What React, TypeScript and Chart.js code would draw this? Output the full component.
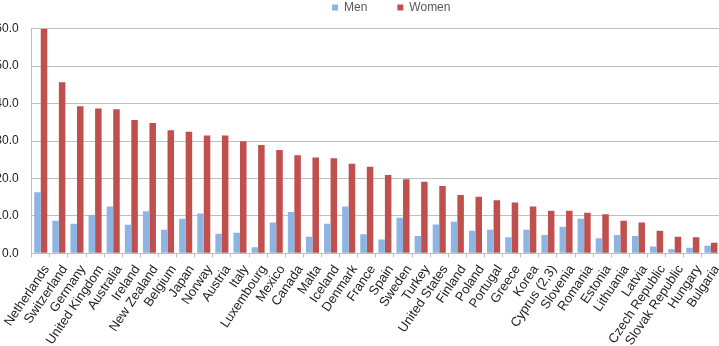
import React, { useEffect, useRef } from "react";
import { Chart, registerables } from "chart.js";

Chart.register(...registerables);

const categories = [
  "Netherlands", "Switzerland", "Germany", "United Kingdom", "Australia", "Ireland",
  "New Zealand", "Belgium", "Japan", "Norway", "Austria", "Italy", "Luxembourg",
  "Mexico", "Canada", "Malta", "Iceland", "Denmark", "France", "Spain", "Sweden",
  "Turkey", "United States", "Finland", "Poland", "Portugal", "Greece", "Korea",
  "Cyprus (2,3)", "Slovenia", "Romania", "Estonia", "Lithuania", "Latvia",
  "Czech Republic", "Slovak Republic", "Hungary", "Bulgaria",
];

const men = [
  16.3, 8.7, 7.9, 10.2, 12.5, 7.6, 11.2, 6.3, 9.2, 10.6, 5.2, 5.5, 1.6,
  8.2, 11.0, 4.4, 7.9, 12.5, 5.1, 3.7, 9.5, 4.6, 7.7, 8.4, 6.0, 6.3, 4.3, 6.3,
  4.9, 7.1, 9.2, 4.0, 4.9, 4.6, 1.8, 1.1, 1.5, 2.0,
];

const women = [
  60.0, 45.7, 39.3, 38.7, 38.5, 35.6, 34.8, 32.9, 32.5, 31.5, 31.5, 29.9, 28.9,
  27.6, 26.2, 25.6, 25.4, 23.9, 23.1, 20.9, 19.8, 19.1, 18.0, 15.6, 15.1, 14.2,
  13.6, 12.5, 11.4, 11.4, 10.8, 10.4, 8.7, 8.2, 6.0, 4.4, 4.3, 2.8,
];

const seriesNames = ["Men", "Women"];
const yMin = 0;
const yMax = 60;
const yStep = 10;

export default function App() {
  const ref = useRef<HTMLCanvasElement>(null);

  useEffect(() => {
    if (!ref.current) return;
    const legendShift = {
      id: "legendShift",
      afterLayout(chart: any) {
        const l = chart.legend;
        if (!l) return;
        const pad = 30;
        const dx = 332 - (l.left + pad);
        const dy = 1.5 - (l.top + pad);
        l.left += dx;
        l.right += dx;
        l.top += dy;
      },
    };
    const family = "'Liberation Sans', Arial, sans-serif";
    const font = { family, size: 12 };
    const xFont = { family, size: 13 };
    const chart = new Chart(ref.current, {
      type: "bar",
      data: {
        labels: categories,
        datasets: [
          {
            label: seriesNames[0],
            data: men,
            backgroundColor: "#8DB4E2",
            borderWidth: 0,
            categoryPercentage: 0.72,
            barPercentage: 1,
          },
          {
            label: seriesNames[1],
            data: women,
            backgroundColor: "#C0504D",
            borderWidth: 0,
            categoryPercentage: 0.72,
            barPercentage: 1,
          },
        ],
      },
      options: {
        animation: false,
        responsive: true,
        maintainAspectRatio: false,
        layout: { padding: 0 },
        plugins: {
          legend: {
            display: true,
            position: "top",
            align: "start",
            maxHeight: 28.7,
            labels: {
              boxWidth: 6,
              boxHeight: 6,
              padding: 30,
              color: "#595959",
              font,
            },
          },
          tooltip: { enabled: false },
        },
        scales: {
          x: {
            grid: {
              display: true,
              drawOnChartArea: false,
              drawTicks: true,
              tickLength: 4,
              color: "#BFBFBF",
              offset: true,
            },
            border: { display: true, color: "#BFBFBF" },
            ticks: {
              autoSkip: false,
              minRotation: 56,
              maxRotation: 56,
              padding: 5,
              labelOffset: 6,
              color: "#222222",
              font: xFont,
            },
            afterFit(scale: any) {
              scale.height = 92.7;
              scale.paddingLeft = 0;
              scale.paddingRight = 0;
            },
          },
          y: {
            min: yMin,
            max: yMax,
            ticks: {
              stepSize: yStep,
              padding: 13,
              color: "#222222",
              font,
              callback: (v: any) => Number(v).toFixed(1),
            },
            grid: {
              color: "#BFBFBF",
              drawTicks: false,
            },
            border: { display: true, color: "#BFBFBF" },
            afterFit(scale: any) {
              scale.width = 31.7;
            },
          },
        },
      },
      plugins: [legendShift],
    });
    return () => chart.destroy();
  }, []);

  return (
    <div style={{ position: "fixed", left: 0, top: 0, width: 719, height: 346, overflow: "hidden", background: "#fff" }}>
      <div style={{ position: "relative", width: 720, height: 346 }}>
        <canvas ref={ref} />
      </div>
    </div>
  );
}
